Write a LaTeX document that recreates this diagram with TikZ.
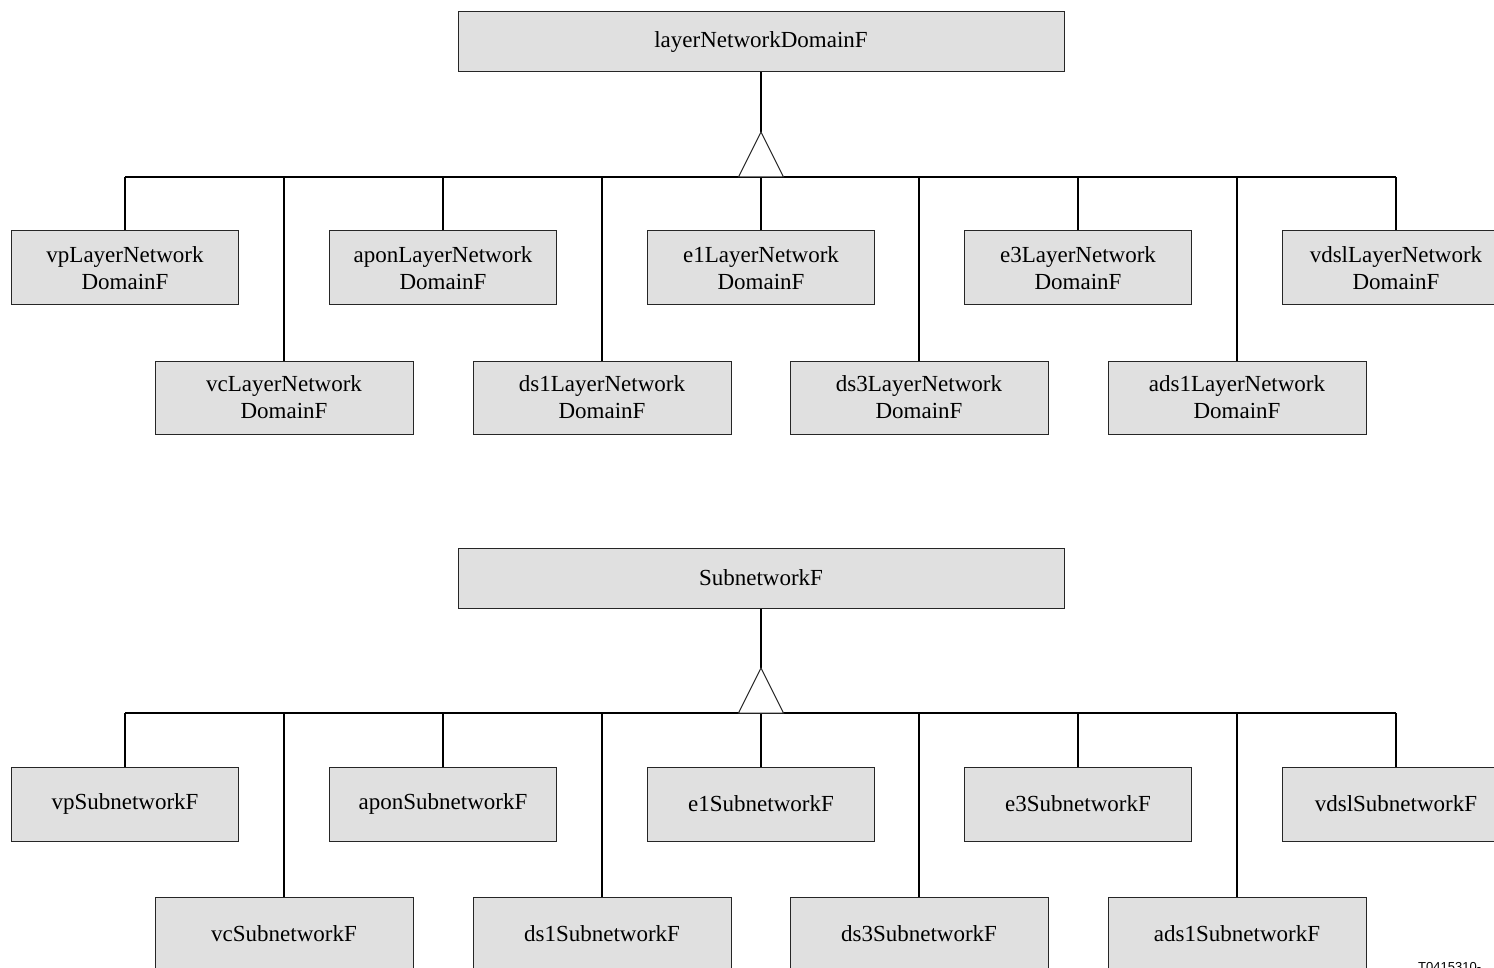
\documentclass[tikz,border=0pt]{standalone}
\usepackage{fontspec}
\setmainfont{Liberation Serif}
\setsansfont{Liberation Sans}
\begin{document}
\begin{tikzpicture}[x=1pt,y=-1pt,
  cls/.style={draw=black!85,line width=1pt,fill=black!12,align=center,
    inner sep=0pt,font=\fontsize{23}{27}\selectfont},
  topcls/.style={cls,minimum width=606,minimum height=60},
  rowa/.style={cls,minimum width=227,minimum height=74},
  rowb/.style={cls,minimum width=258,minimum height=73},
  link/.style={line width=1.4pt,black},
  inherit/.style={draw=black!85,line width=1pt,fill=white,line join=miter}]
\useasboundingbox (0,0) rectangle (1494,968);

% ---- layer network domain fragments ----
\node[topcls] (lnd) at (761,42) {layerNetworkDomainF};
\coordinate (lndApex) at (761,132);
\coordinate (lndBus) at (761,177);
\foreach \n/\x/\t in {vpL/125/vpLayerNetwork\\DomainF,
                      aponL/443/aponLayerNetwork\\DomainF,
                      eoneL/761/e1LayerNetwork\\DomainF,
                      ethreeL/1078/e3LayerNetwork\\DomainF,
                      vdslL/1396/vdslLayerNetwork\\DomainF}
  \node[rowa] (\n) at (\x,268) {\t};
\foreach \n/\x/\t in {vcL/284/vcLayerNetwork\\DomainF,
                      dsoneL/602/ds1LayerNetwork\\DomainF,
                      dsthreeL/919/ds3LayerNetwork\\DomainF,
                      adsoneL/1237/ads1LayerNetwork\\DomainF}
  \node[rowb] (\n) at (\x,397.5) {\t};

\draw[link] (lnd.south) -- (lndApex);
\draw[link] (vpL.north |- lndBus) -- (vdslL.north |- lndBus);
\foreach \n in {vpL,aponL,eoneL,ethreeL,vdslL,vcL,dsoneL,dsthreeL,adsoneL}
  \draw[link] (\n.north) -- (\n.north |- lndBus);
\draw[inherit] (lndApex) -- ([xshift=-22.5pt]lndBus) -- ([xshift=22.5pt]lndBus) -- cycle;

% ---- subnetwork fragments ----
\node[topcls] (sn) at (761,578) {SubnetworkF};
\coordinate (snApex) at (761,668);
\coordinate (snBus) at (761,713);
\foreach \n/\x/\t in {vpS/125/vpSubnetworkF,
                      aponS/443/aponSubnetworkF,
                      eoneS/761/e1SubnetworkF,
                      ethreeS/1078/e3SubnetworkF,
                      vdslS/1396/vdslSubnetworkF}
  \node[rowa] (\n) at (\x,804) {\t};
\foreach \n/\x/\t in {vcS/284/vcSubnetworkF,
                      dsoneS/602/ds1SubnetworkF,
                      dsthreeS/919/ds3SubnetworkF,
                      adsoneS/1237/ads1SubnetworkF}
  \node[rowb] (\n) at (\x,933.5) {\t};

\draw[link] (sn.south) -- (snApex);
\draw[link] (vpS.north |- snBus) -- (vdslS.north |- snBus);
\foreach \n in {vpS,aponS,eoneS,ethreeS,vdslS,vcS,dsoneS,dsthreeS,adsoneS}
  \draw[link] (\n.north) -- (\n.north |- snBus);
\draw[inherit] (snApex) -- ([xshift=-22.5pt]snBus) -- ([xshift=22.5pt]snBus) -- cycle;

% figure reference
\node[anchor=base west,inner sep=0pt,font=\sffamily\fontsize{13}{15}\selectfont] (figref) at (1418,971) {T0415310-};
\end{tikzpicture}
\end{document}
